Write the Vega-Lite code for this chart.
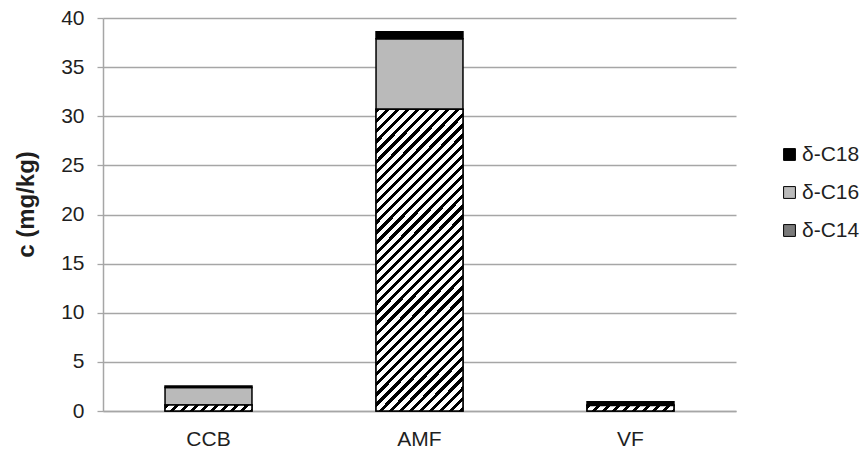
{
  "$schema": "https://vega.github.io/schema/vega-lite/v6.json",
  "width": 633,
  "height": 393,
  "autosize": {"type": "none"},
  "padding": {"left": 103, "top": 18, "right": 126, "bottom": 39},
  "background": "white",
  "config": {
    "font": "Liberation Sans",
    "view": {"stroke": null},
    "axis": {"labelColor": "#1f1f1f", "titleColor": "#1f1f1f"},
    "legend": {"labelColor": "#1f1f1f"}
  },
  "data": {
    "values": [
      {"cat": "CCB", "series": "δ-C14", "value": 0.6},
      {"cat": "CCB", "series": "δ-C16", "value": 1.8},
      {"cat": "CCB", "series": "δ-C18", "value": 0.15},
      {"cat": "AMF", "series": "δ-C14", "value": 30.7},
      {"cat": "AMF", "series": "δ-C16", "value": 7.2},
      {"cat": "AMF", "series": "δ-C18", "value": 0.7},
      {"cat": "VF", "series": "δ-C14", "value": 0.55},
      {"cat": "VF", "series": "δ-C16", "value": 0.05},
      {"cat": "VF", "series": "δ-C18", "value": 0.35}
    ]
  },
  "encoding": {
    "x": {
      "field": "cat",
      "type": "nominal",
      "sort": ["CCB", "AMF", "VF"],
      "scale": {"paddingInner": 0.588, "paddingOuter": 0.294},
      "axis": {
        "title": null,
        "labelAngle": 0,
        "ticks": false,
        "grid": false,
        "domainColor": "#a6a6a6",
        "domainWidth": 1.5,
        "labelPadding": 17,
        "labelFontSize": 21
      }
    }
  },
  "layer": [
    {
      "mark": {"type": "bar", "stroke": "#000", "strokeWidth": 1.5},
      "encoding": {
        "y": {
          "field": "value",
          "type": "quantitative",
          "stack": "zero",
          "scale": {"domain": [0, 40], "nice": false},
          "axis": {
            "title": "c (mg/kg)",
            "values": [0, 5, 10, 15, 20, 25, 30, 35, 40],
            "grid": true,
            "gridColor": "#a6a6a6",
            "gridWidth": 1.3,
            "domainColor": "#a6a6a6",
            "domainWidth": 1.5,
            "tickColor": "#a6a6a6",
            "tickWidth": 1.3,
            "tickSize": 6,
            "labelFontSize": 21,
            "labelPadding": 13,
            "titleFontSize": 24,
            "titleFontWeight": "bold",
            "titleAngle": -90,
            "titleX": -77,
            "titleY": 186,
            "titleAlign": "center",
            "titleBaseline": "middle"
          }
        },
        "color": {
          "field": "series",
          "type": "nominal",
          "scale": {"domain": ["δ-C18", "δ-C16", "δ-C14"], "range": ["#000000", "#bababa", "#7a7a7a"]},
          "legend": {
            "title": null,
            "orient": "none",
            "legendX": 676,
            "legendY": 126,
            "symbolType": "square",
            "symbolSize": 140,
            "symbolStrokeColor": "#000",
            "symbolStrokeWidth": 1,
            "labelFontSize": 21,
            "labelOffset": 2,
            "rowPadding": 16
          }
        },
        "order": {"field": "series", "sort": "ascending"}
      }
    },
    {
      "transform": [{"filter": "datum.series === 'δ-C14' && datum.cat === 'AMF'"}],
      "mark": {
        "type": "bar",
        "stroke": "#000",
        "strokeWidth": 1.5,
        "fill": {
          "gradient": "linear",
          "x1": 0, "y1": 0, "x2": 0.3463, "y2": 1.19,
          "stops": [
            {"offset": 0, "color": "#000"}, {"offset": 0.011, "color": "#000"}, {"offset": 0.011, "color": "#fff"}, {"offset": 0.026, "color": "#fff"},
            {"offset": 0.026, "color": "#000"}, {"offset": 0.037, "color": "#000"}, {"offset": 0.037, "color": "#fff"}, {"offset": 0.052, "color": "#fff"},
            {"offset": 0.052, "color": "#000"}, {"offset": 0.063, "color": "#000"}, {"offset": 0.063, "color": "#fff"}, {"offset": 0.078, "color": "#fff"},
            {"offset": 0.078, "color": "#000"}, {"offset": 0.089, "color": "#000"}, {"offset": 0.089, "color": "#fff"}, {"offset": 0.104, "color": "#fff"},
            {"offset": 0.104, "color": "#000"}, {"offset": 0.115, "color": "#000"}, {"offset": 0.115, "color": "#fff"}, {"offset": 0.13, "color": "#fff"},
            {"offset": 0.13, "color": "#000"}, {"offset": 0.141, "color": "#000"}, {"offset": 0.141, "color": "#fff"}, {"offset": 0.156, "color": "#fff"},
            {"offset": 0.156, "color": "#000"}, {"offset": 0.167, "color": "#000"}, {"offset": 0.167, "color": "#fff"}, {"offset": 0.182, "color": "#fff"},
            {"offset": 0.182, "color": "#000"}, {"offset": 0.193, "color": "#000"}, {"offset": 0.193, "color": "#fff"}, {"offset": 0.208, "color": "#fff"},
            {"offset": 0.208, "color": "#000"}, {"offset": 0.219, "color": "#000"}, {"offset": 0.219, "color": "#fff"}, {"offset": 0.234, "color": "#fff"},
            {"offset": 0.234, "color": "#000"}, {"offset": 0.245, "color": "#000"}, {"offset": 0.245, "color": "#fff"}, {"offset": 0.26, "color": "#fff"},
            {"offset": 0.26, "color": "#000"}, {"offset": 0.271, "color": "#000"}, {"offset": 0.271, "color": "#fff"}, {"offset": 0.286, "color": "#fff"},
            {"offset": 0.286, "color": "#000"}, {"offset": 0.297, "color": "#000"}, {"offset": 0.297, "color": "#fff"}, {"offset": 0.312, "color": "#fff"},
            {"offset": 0.312, "color": "#000"}, {"offset": 0.323, "color": "#000"}, {"offset": 0.323, "color": "#fff"}, {"offset": 0.338, "color": "#fff"},
            {"offset": 0.338, "color": "#000"}, {"offset": 0.349, "color": "#000"}, {"offset": 0.349, "color": "#fff"}, {"offset": 0.364, "color": "#fff"},
            {"offset": 0.364, "color": "#000"}, {"offset": 0.375, "color": "#000"}, {"offset": 0.375, "color": "#fff"}, {"offset": 0.39, "color": "#fff"},
            {"offset": 0.39, "color": "#000"}, {"offset": 0.401, "color": "#000"}, {"offset": 0.401, "color": "#fff"}, {"offset": 0.416, "color": "#fff"},
            {"offset": 0.416, "color": "#000"}, {"offset": 0.427, "color": "#000"}, {"offset": 0.427, "color": "#fff"}, {"offset": 0.442, "color": "#fff"},
            {"offset": 0.442, "color": "#000"}, {"offset": 0.453, "color": "#000"}, {"offset": 0.453, "color": "#fff"}, {"offset": 0.468, "color": "#fff"},
            {"offset": 0.468, "color": "#000"}, {"offset": 0.479, "color": "#000"}, {"offset": 0.479, "color": "#fff"}, {"offset": 0.494, "color": "#fff"},
            {"offset": 0.494, "color": "#000"}, {"offset": 0.505, "color": "#000"}, {"offset": 0.505, "color": "#fff"}, {"offset": 0.52, "color": "#fff"},
            {"offset": 0.52, "color": "#000"}, {"offset": 0.531, "color": "#000"}, {"offset": 0.531, "color": "#fff"}, {"offset": 0.546, "color": "#fff"},
            {"offset": 0.546, "color": "#000"}, {"offset": 0.557, "color": "#000"}, {"offset": 0.557, "color": "#fff"}, {"offset": 0.572, "color": "#fff"},
            {"offset": 0.572, "color": "#000"}, {"offset": 0.583, "color": "#000"}, {"offset": 0.583, "color": "#fff"}, {"offset": 0.598, "color": "#fff"},
            {"offset": 0.598, "color": "#000"}, {"offset": 0.609, "color": "#000"}, {"offset": 0.609, "color": "#fff"}, {"offset": 0.624, "color": "#fff"},
            {"offset": 0.624, "color": "#000"}, {"offset": 0.635, "color": "#000"}, {"offset": 0.635, "color": "#fff"}, {"offset": 0.65, "color": "#fff"},
            {"offset": 0.65, "color": "#000"}, {"offset": 0.661, "color": "#000"}, {"offset": 0.661, "color": "#fff"}, {"offset": 0.676, "color": "#fff"},
            {"offset": 0.676, "color": "#000"}, {"offset": 0.687, "color": "#000"}, {"offset": 0.687, "color": "#fff"}, {"offset": 0.702, "color": "#fff"},
            {"offset": 0.702, "color": "#000"}, {"offset": 0.713, "color": "#000"}, {"offset": 0.713, "color": "#fff"}, {"offset": 0.728, "color": "#fff"},
            {"offset": 0.728, "color": "#000"}, {"offset": 0.739, "color": "#000"}, {"offset": 0.739, "color": "#fff"}, {"offset": 0.754, "color": "#fff"},
            {"offset": 0.754, "color": "#000"}, {"offset": 0.765, "color": "#000"}, {"offset": 0.765, "color": "#fff"}, {"offset": 0.78, "color": "#fff"},
            {"offset": 0.78, "color": "#000"}, {"offset": 0.791, "color": "#000"}, {"offset": 0.791, "color": "#fff"}, {"offset": 0.806, "color": "#fff"},
            {"offset": 0.806, "color": "#000"}, {"offset": 0.817, "color": "#000"}, {"offset": 0.817, "color": "#fff"}, {"offset": 0.832, "color": "#fff"},
            {"offset": 0.832, "color": "#000"}, {"offset": 0.843, "color": "#000"}, {"offset": 0.843, "color": "#fff"}, {"offset": 0.858, "color": "#fff"},
            {"offset": 0.858, "color": "#000"}, {"offset": 0.869, "color": "#000"}, {"offset": 0.869, "color": "#fff"}, {"offset": 0.884, "color": "#fff"},
            {"offset": 0.884, "color": "#000"}, {"offset": 0.895, "color": "#000"}, {"offset": 0.895, "color": "#fff"}, {"offset": 0.91, "color": "#fff"},
            {"offset": 0.91, "color": "#000"}, {"offset": 0.921, "color": "#000"}, {"offset": 0.921, "color": "#fff"}, {"offset": 0.936, "color": "#fff"},
            {"offset": 0.936, "color": "#000"}, {"offset": 0.947, "color": "#000"}, {"offset": 0.947, "color": "#fff"}, {"offset": 0.962, "color": "#fff"},
            {"offset": 0.962, "color": "#000"}, {"offset": 0.973, "color": "#000"}, {"offset": 0.973, "color": "#fff"}, {"offset": 0.988, "color": "#fff"},
            {"offset": 0.988, "color": "#000"}, {"offset": 0.999, "color": "#000"}, {"offset": 0.999, "color": "#fff"}, {"offset": 1, "color": "#fff"}
          ]
        }
      },
      "encoding": {
        "y": {"field": "value", "type": "quantitative"}
      }
    },
    {
      "transform": [{"filter": "datum.series === 'δ-C14' && datum.cat !== 'AMF'"}],
      "mark": {
        "type": "bar",
        "stroke": "#000",
        "strokeWidth": 1.5,
        "fill": {
          "gradient": "linear",
          "x1": 0, "y1": 0, "x2": 1.058, "y2": 0.0657,
          "stops": [
            {"offset": 0, "color": "#000"}, {"offset": 0.045, "color": "#000"}, {"offset": 0.045, "color": "#fff"}, {"offset": 0.108, "color": "#fff"},
            {"offset": 0.108, "color": "#000"}, {"offset": 0.153, "color": "#000"}, {"offset": 0.153, "color": "#fff"}, {"offset": 0.216, "color": "#fff"},
            {"offset": 0.216, "color": "#000"}, {"offset": 0.261, "color": "#000"}, {"offset": 0.261, "color": "#fff"}, {"offset": 0.324, "color": "#fff"},
            {"offset": 0.324, "color": "#000"}, {"offset": 0.369, "color": "#000"}, {"offset": 0.369, "color": "#fff"}, {"offset": 0.432, "color": "#fff"},
            {"offset": 0.432, "color": "#000"}, {"offset": 0.477, "color": "#000"}, {"offset": 0.477, "color": "#fff"}, {"offset": 0.54, "color": "#fff"},
            {"offset": 0.54, "color": "#000"}, {"offset": 0.585, "color": "#000"}, {"offset": 0.585, "color": "#fff"}, {"offset": 0.648, "color": "#fff"},
            {"offset": 0.648, "color": "#000"}, {"offset": 0.693, "color": "#000"}, {"offset": 0.693, "color": "#fff"}, {"offset": 0.756, "color": "#fff"},
            {"offset": 0.756, "color": "#000"}, {"offset": 0.801, "color": "#000"}, {"offset": 0.801, "color": "#fff"}, {"offset": 0.864, "color": "#fff"},
            {"offset": 0.864, "color": "#000"}, {"offset": 0.909, "color": "#000"}, {"offset": 0.909, "color": "#fff"}, {"offset": 0.972, "color": "#fff"},
            {"offset": 0.972, "color": "#000"}, {"offset": 1, "color": "#000"}
          ]
        }
      },
      "encoding": {
        "y": {"field": "value", "type": "quantitative"}
      }
    }
  ]
}
